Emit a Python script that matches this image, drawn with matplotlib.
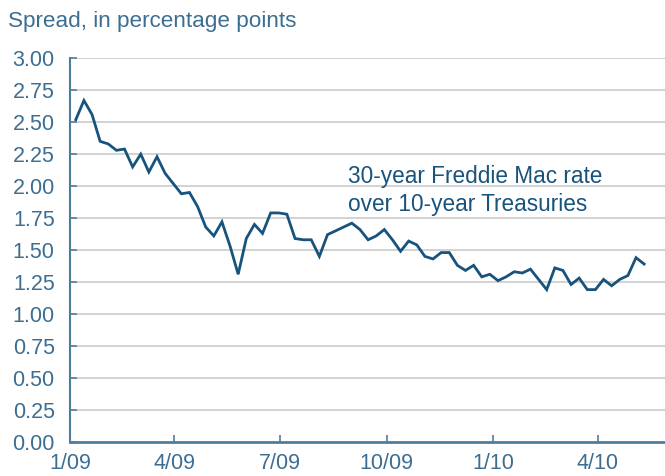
import matplotlib
matplotlib.use("Agg")
import matplotlib.pyplot as plt
import numpy as np
import pandas as pd

# Weekly spread, 30-year Freddie Mac rate over 10-year Treasuries
start_date = "2009-01-06"
spread = [
    2.52, 2.67, 2.56, 2.35, 2.33, 2.28, 2.29, 2.15, 2.25, 2.11,
    2.23, 2.10, 2.02, 1.94, 1.95, 1.84, 1.68, 1.61, 1.72, 1.53,
    1.31, 1.59, 1.70, 1.63, 1.79, 1.79, 1.78, 1.59, 1.58, 1.58,
    1.45, 1.62, 1.65, 1.68, 1.71, 1.66, 1.58, 1.61, 1.66, 1.58,
    1.49, 1.57, 1.54, 1.45, 1.43, 1.48, 1.48, 1.38, 1.34, 1.38,
    1.29, 1.31, 1.26, 1.29, 1.33, 1.32, 1.35, 1.27, 1.19, 1.36,
    1.34, 1.23, 1.28, 1.19, 1.19, 1.27, 1.22, 1.27, 1.30, 1.44,
    1.39,
]
tick_dates = ["2009-01-01", "2009-04-01", "2009-07-01", "2009-10-01", "2010-01-01", "2010-04-01"]
tick_labels = ["1/09", "4/09", "7/09", "10/09", "1/10", "4/10"]
y_ticks = np.arange(0, 3.01, 0.25)

dates = pd.date_range(start_date, periods=len(spread), freq="7D")

text_col = "#3C6E91"
line_col = "#17537C"
axis_col = "#4F7D9C"
grid_col = "#CFCFCF"

plt.rcParams["font.family"] = ["Liberation Sans", "DejaVu Sans"]

fig = plt.figure(figsize=(6.65, 4.76), dpi=100)
ax = fig.add_axes([70 / 665, 34.3 / 476, 595 / 665, 383.4 / 476])

ax.plot(dates, spread, color=line_col, linewidth=2.0, solid_joinstyle="miter")

ax.set_ylim(0, 3.0)
ax.set_xlim(pd.Timestamp("2009-01-01"), pd.Timestamp("2010-05-29"))
ax.set_yticks(y_ticks)
ax.set_yticklabels([f"{v:.2f}" for v in y_ticks])
ax.set_xticks(pd.to_datetime(tick_dates))
ax.set_xticklabels(tick_labels)

# horizontal gridlines only
for v in y_ticks[1:]:
    ax.axhline(v, color=grid_col, linewidth=1.3, zorder=0)

for side in ["top", "right"]:
    ax.spines[side].set_visible(False)
ax.spines["left"].set_color(axis_col)
ax.spines["left"].set_linewidth(1.5)
ax.spines["bottom"].set_color(axis_col)
ax.spines["bottom"].set_linewidth(2.0)

ax.tick_params(axis="y", direction="in", length=5, width=1.2, color=axis_col,
               labelsize=15.5, labelcolor=text_col, pad=11)
ax.tick_params(axis="x", direction="in", length=5, width=1.2, color=axis_col,
               labelsize=15.5, labelcolor=text_col, pad=8)

ax.text(pd.Timestamp("2009-08-29"), 2.165,
        "30-year Freddie Mac rate\nover 10-year Treasuries",
        color=line_col, fontsize=16.3, va="top", ha="left", linespacing=1.3)

fig.text(8 / 665, 449.3 / 476, "Spread, in percentage points",
         color=text_col, fontsize=16.2, va="baseline", ha="left")

fig.savefig("out.png", dpi=100)
